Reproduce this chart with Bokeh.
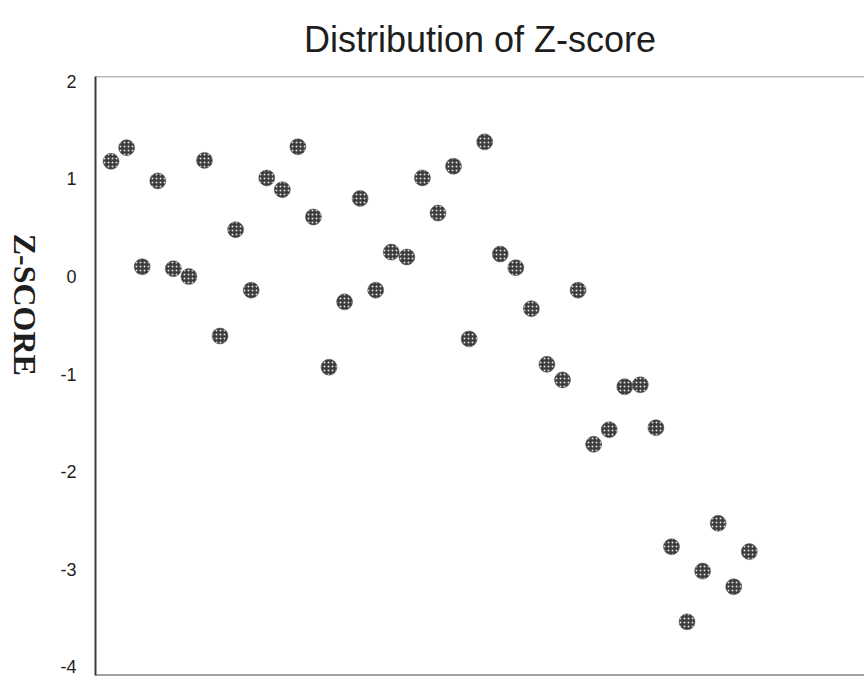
import math
from bokeh.plotting import figure
from bokeh.models import ColumnDataSource, FixedTicker, Range1d, Span
from bokeh.layouts import row
from bokeh.core.properties import value
from bokeh.embed import file_html
from bokeh.resources import INLINE

# ---- data ----
observation = list(range(1, 43))
z_scores = [1.18, 1.32, 0.10, 0.98, 0.08, 0.00, 1.19, -0.61, 0.48, -0.14,
            1.01, 0.89, 1.33, 0.61, -0.93, -0.26, 0.80, -0.14, 0.25, 0.20,
            1.01, 0.65, 1.13, -0.64, 1.38, 0.23, 0.09, -0.33, -0.90, -1.06,
            -0.14, -1.72, -1.57, -1.13, -1.11, -1.55, -2.77, -3.54, -3.02, -2.53,
            -3.18, -2.82]
y_tick_values = [-4, -3, -2, -1, 0, 1, 2]
y_tick_labels = ["-4", "-3", "-2", "-1", "0", "1", "2"]
title_text = "Distribution of Z-score"
y_label_text = "Z-SCORE"

Y_START, Y_END = -4.09, 2.05
source = ColumnDataSource(data=dict(x=observation, y=z_scores))

# ---- narrow panel that carries the rotated y-axis title (frame aligned with main plot) ----
lab = figure(width=50, height=677, output_backend="svg", toolbar_location=None,
             x_range=Range1d(0, 50), y_range=Range1d(Y_START, Y_END),
             x_axis_location=None, y_axis_location=None,
             min_border_left=0, min_border_right=0, min_border_top=75, min_border_bottom=2)
lab.outline_line_color = None
lab.grid.visible = False
lab.background_fill_color = "white"
lab.border_fill_color = "white"
lab.text(x=[24], y=[-0.29], text=[y_label_text], angle=-math.pi / 2,
         text_font=value("Liberation Serif"), text_font_style="bold",
         text_font_size="32px", text_color="#1e1e1e",
         text_align="center", text_baseline="middle")

# ---- main scatter ----
p = figure(width=814, height=677, output_backend="svg", toolbar_location=None,
           x_range=Range1d(0, 49.4), y_range=Range1d(Y_START, Y_END),
           x_axis_location=None, min_border_left=45, min_border_right=0,
           min_border_top=75, min_border_bottom=2)

p.background_fill_color = "white"
p.border_fill_color = "white"
p.outline_line_color = None
p.grid.visible = False

p.title.text = title_text
p.title.align = "center"
p.title.text_font = "Liberation Sans"
p.title.text_font_size = "36px"
p.title.text_font_style = "normal"
p.title.text_color = "#1e1e1e"
p.title.standoff = 33

ya = p.yaxis[0]
ya.ticker = FixedTicker(ticks=y_tick_values)
ya.major_label_overrides = {v: s for v, s in zip(y_tick_values, y_tick_labels)}
ya.major_tick_line_color = None
ya.minor_tick_line_color = None
ya.axis_line_color = "#3a3a3a"
ya.axis_line_width = 2
ya.major_label_text_font = "Liberation Sans"
ya.major_label_text_font_size = "18px"
ya.major_label_text_color = "#222222"
ya.major_label_standoff = 13

top_line = Span(location=Y_END, dimension="width", line_color="#777777", line_width=1.5)
bottom_line = Span(location=Y_START, dimension="width", line_color="#444444", line_width=2)
p.add_layout(top_line)
p.add_layout(bottom_line)

p.scatter("x", "y", source=source, size=16, marker="circle",
          fill_color="#3c3c3c", line_color="#555555", line_width=0.5,
          hatch_pattern="dot", hatch_color="white", hatch_scale=4, hatch_weight=1.6,
          hatch_alpha=0.85)

layout = row(lab, p)
open("out.html", "w").write(file_html(layout, INLINE))
